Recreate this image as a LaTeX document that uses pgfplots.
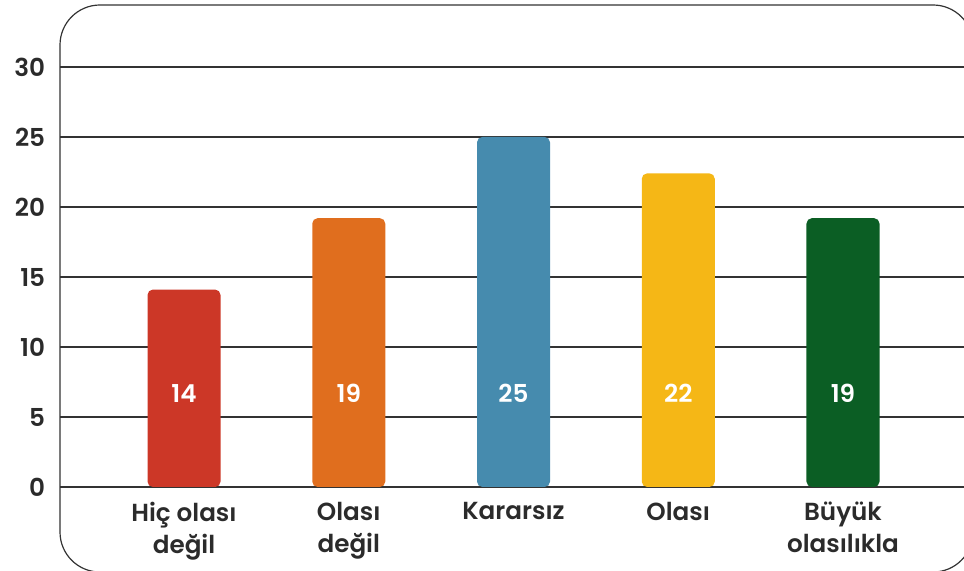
\documentclass[border=0pt]{standalone}
\usepackage{fontspec}
\IfFontExistsTF{Poppins SemiBold}{\setmainfont{Poppins SemiBold}}{\setmainfont{Poppins}}
\usepackage{pgfplots}
\pgfplotsset{compat=1.18}
\usepackage{pgfplotstable}
\definecolor{gridc}{HTML}{333333}
\definecolor{txt}{HTML}{2B2B2B}
\definecolor{c1}{HTML}{CC3727}
\definecolor{c2}{HTML}{E06E1E}
\definecolor{c3}{HTML}{468BAE}
\definecolor{c4}{HTML}{F5B716}
\definecolor{c5}{HTML}{0B5E24}

% bar heights as drawn, the printed labels, and where the labels sit
\pgfplotstableread{
x y lab ly
0 14.1 14 6.71
1 19.2 19 6.71
2 25.0 25 6.71
3 22.4 22 6.71
4 19.2 19 6.71
}\datatab

\begin{document}
\begin{tikzpicture}[font=\fontsize{18.5}{24}\selectfont]
\begin{axis}[
    scale only axis,
    width=678pt, height=315pt,
    xmin=-0.7527, xmax=4.7345,
    ymin=0, ymax=30,
    clip=false,
    axis line style={draw=none},
    major tick length=0pt,
    ytick={0,5,...,30},
    ymajorgrids,
    grid style={gridc, line width=0.9pt},
    xtick={0,...,4},
    xticklabels={{Hiç olası\\değil},{Olası\\değil},Kararsız,Olası,{Büyük\\olasılıkla}},
    xticklabel style={align=center, anchor=north, yshift=-11pt, text=txt, inner sep=0pt},
    yticklabel style={anchor=east, xshift=-11pt, text=txt, inner sep=0pt},
    /pgf/number format/assume math mode=true,
    bar width=54.75pt,
]
\addplot[ybar, fill=c1, draw=none, bar shift=0pt, rounded corners=4pt, restrict x to domain=0:0] table[x=x, y=y] {\datatab};
\addplot[ybar, fill=c2, draw=none, bar shift=0pt, rounded corners=4pt, restrict x to domain=1:1] table[x=x, y=y] {\datatab};
\addplot[ybar, fill=c3, draw=none, bar shift=0pt, rounded corners=4pt, restrict x to domain=2:2] table[x=x, y=y] {\datatab};
\addplot[ybar, fill=c4, draw=none, bar shift=0pt, rounded corners=4pt, restrict x to domain=3:3] table[x=x, y=y] {\datatab};
\addplot[ybar, fill=c5, draw=none, bar shift=0pt, rounded corners=4pt, restrict x to domain=4:4] table[x=x, y=y] {\datatab};
\addplot[only marks, mark=none, nodes near coords, point meta=explicit symbolic,
    every node near coord/.style={anchor=center, text=white, inner sep=0pt}]
    table[x=x, y=ly, meta=lab] {\datatab};
% rounded frame, running off the right and bottom edges
\draw[gridc, line width=0.9pt, rounded corners=30pt]
    (rel axis cs:0,-0.2025) rectangle (rel axis cs:1.01,1.1476);
\coordinate (pbl) at (rel axis cs:-0.06637,-0.2);
\coordinate (ptr) at (rel axis cs:1,1.1595);
\end{axis}
\pgfresetboundingbox
\useasboundingbox (pbl) rectangle (ptr);
\end{tikzpicture}
\end{document}
